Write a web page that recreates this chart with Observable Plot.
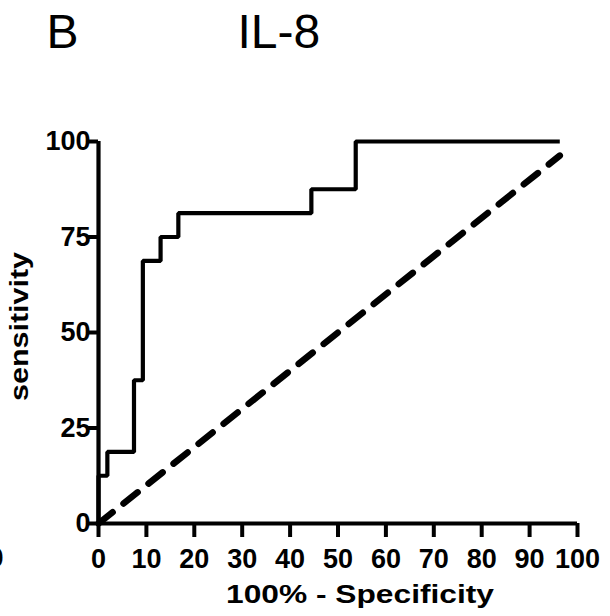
<!DOCTYPE html>
<html>
<head>
<meta charset="utf-8">
<script src="https://cdn.jsdelivr.net/npm/d3@7"></script>
<script src="https://cdn.jsdelivr.net/npm/@observablehq/plot@0.6"></script>
<style>
  html, body { margin: 0; padding: 0; background: #fff; }
  #chart svg { display: block; }
</style>
</head>
<body>
<div id="chart"></div>
<script>
// ROC curve for IL-8 (100% - specificity vs sensitivity)
const rocX = [0, 0, 1.85, 7.41, 9.26, 12.96, 16.67, 44.44, 53.70, 96.30];
const rocY = [0, 12.5, 18.75, 37.5, 68.75, 75, 81.25, 87.5, 100, 100];
// reference (chance) line
const refX = [0, 96.3];
const refY = [0, 96.3];
const xTicks = [0, 10, 20, 30, 40, 50, 60, 70, 80, 90, 100];
const yTicks = [0, 25, 50, 75, 100];
const panelLabel = "B";
const titleText = "IL-8";
const xLabel = "100% - Specificity";
const yLabel = "sensitivity";

const roc = rocX.map((x, i) => ({x, y: rocY[i]}));
const ref = refX.map((x, i) => ({x, y: refY[i]}));

const font = "'Liberation Sans', Arial, Helvetica, sans-serif";

const svg = Plot.plot({
  width: 610,
  height: 616,
  marginLeft: 98,
  marginRight: 33,
  marginTop: 141,
  marginBottom: 93,
  style: {background: "#fff", fontFamily: font, color: "#000", fontWeight: "bold"},
  x: {domain: [0, 100]},
  y: {domain: [0, 100]},
  marks: [
    Plot.axisX({ticks: xTicks, tickSize: 14, tickPadding: 11, fontSize: 27, fontWeight: "bold", strokeWidth: 4, label: null, tickFormat: d => String(d)}),
    Plot.axisY({ticks: yTicks, tickSize: 10, tickPadding: -2, fontSize: 27, fontWeight: "bold", strokeWidth: 4, label: null, tickFormat: d => String(d)}),
    Plot.ruleX([0], {stroke: "#000", strokeWidth: 4.2}),
    Plot.ruleY([0], {stroke: "#000", strokeWidth: 4.2}),
    Plot.line(roc, {x: "x", y: "y", curve: "step-after", stroke: "#000", strokeWidth: 4.2, strokeLinejoin: "miter", strokeLinecap: "butt"}),
    Plot.line(ref, {x: "x", y: "y", stroke: "#000", strokeWidth: 6.5, strokeDasharray: "18,14", strokeLinecap: "round"})
  ]
});

const s = d3.select(svg);
s.append("text").attr("x", 46.5).attr("y", 48).attr("text-anchor", "start").attr("font-family", font).attr("font-size", 48).attr("font-weight", "normal").attr("fill", "#000").text(panelLabel);
s.append("text").attr("x", 237.5).attr("y", 48).attr("text-anchor", "start").attr("font-family", font).attr("font-size", 48).attr("font-weight", "normal").attr("fill", "#000").text(titleText);
s.append("text").attr("x", 360).attr("y", 603).attr("text-anchor", "middle").attr("font-family", font).attr("font-size", 26).attr("font-weight", "bold").attr("textLength", 268).attr("lengthAdjust", "spacingAndGlyphs").attr("fill", "#000").text(xLabel);
s.append("text").attr("transform", "translate(28,326.5) rotate(-90)").attr("text-anchor", "middle").attr("font-family", font).attr("font-size", 25).attr("font-weight", "bold").attr("textLength", 149).attr("lengthAdjust", "spacingAndGlyphs").attr("fill", "#000").text(yLabel);
// clipped fragment of a neighbouring panel's tick label at the left edge
s.append("text").attr("x", -11.5).attr("y", 567).attr("text-anchor", "start").attr("font-family", font).attr("font-size", 27).attr("font-weight", "bold").attr("fill", "#000").text("0");

document.getElementById("chart").appendChild(svg);
</script>
</body>
</html>
